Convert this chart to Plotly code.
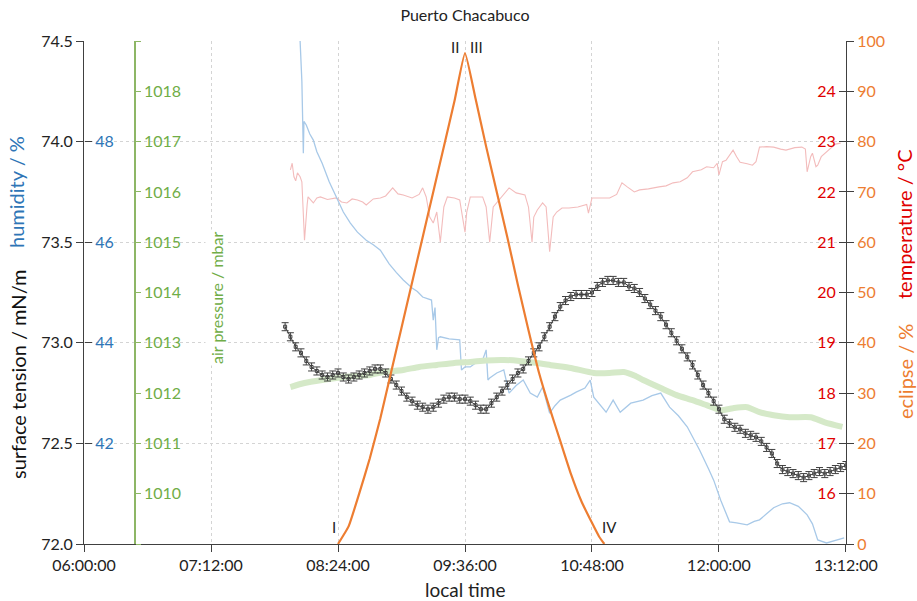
import plotly.graph_objects as go
import pandas as pd

DATE = "2020-01-01"
FONT = "Lato"


def ts(t):
    if t.count(":") == 1:
        t += ":00"
    return f"{DATE} {t}"


# ---------------- data ----------------
X_TICKS = ["06:00:00", "07:12:00", "08:24:00", "09:36:00", "10:48:00", "12:00:00", "13:12:00"]

# surface tension (mN/m), sampled every 3 minutes from 07:54
ST_START = "07:54"
ST_STEP_MIN = 3
ST_VALUES = [
    73.08, 73.03, 72.98, 72.95, 72.91, 72.88, 72.86, 72.84, 72.83, 72.84,
    72.85, 72.83, 72.82, 72.83, 72.84, 72.85, 72.86, 72.87, 72.87, 72.85,
    72.82, 72.79, 72.76, 72.73, 72.71, 72.69, 72.68, 72.67, 72.68, 72.70,
    72.72, 72.73, 72.73, 72.72, 72.72, 72.71, 72.69, 72.67, 72.67, 72.70,
    72.73, 72.76, 72.79, 72.82, 72.85, 72.87, 72.91, 72.95, 72.98, 73.03,
    73.08, 73.13, 73.18, 73.21, 73.23, 73.24, 73.24, 73.24, 73.25, 73.28,
    73.30, 73.31, 73.31, 73.30, 73.30, 73.28, 73.27, 73.25, 73.22, 73.19,
    73.16, 73.13, 73.09, 73.05, 73.01, 72.97, 72.93, 72.89, 72.84, 72.79,
    72.75, 72.71, 72.67, 72.62, 72.60, 72.58, 72.57, 72.55, 72.54, 72.53,
    72.51, 72.48, 72.45, 72.40, 72.37, 72.36, 72.35, 72.34, 72.33, 72.34,
    72.35, 72.36, 72.35, 72.36, 72.37, 72.38, 72.39,
]
ST_ERR = 0.02

HUM_TIME = [
    "08:02:00", "08:02:30", "08:03:30", "08:04:00", "08:04:20", "08:04:40", "08:06", "08:08",
    "08:10", "08:12", "08:15", "08:19", "08:23", "08:27", "08:31", "08:35", "08:40", "08:44",
    "08:48", "08:53", "08:57", "09:01", "09:06", "09:09", "09:12", "09:15", "09:17", "09:18",
    "09:19", "09:20", "09:21", "09:22", "09:27", "09:33", "09:34", "09:36", "09:39", "09:42",
    "09:46", "09:48", "09:49", "09:50", "09:54", "09:58", "10:01", "10:05", "10:09", "10:13",
    "10:17", "10:20", "10:24", "10:27", "10:30", "10:36", "10:39", "10:44", "10:47", "10:49",
    "10:53", "10:56", "11:00", "11:04", "11:10", "11:17", "11:22", "11:27", "11:32", "11:37",
    "11:42", "11:49", "11:54", "11:57", "12:01", "12:04", "12:06", "12:10", "12:16", "12:20",
    "12:23", "12:27", "12:31", "12:36", "12:40", "12:45", "12:50", "12:53", "12:56", "13:01",
    "13:04", "13:07", "13:11",
]
HUM_PCT = [
    50.8, 50.0, 49.2, 48.4, 47.77, 48.4, 48.33, 48.15,
    48.03, 47.8, 47.57, 47.2, 46.9, 46.6, 46.38, 46.2, 46.04, 45.95,
    45.84, 45.57, 45.4, 45.25, 45.09, 45.02, 44.91, 44.88, 44.85, 44.45,
    44.7, 43.86, 44.1, 44.12, 44.08, 44.06, 43.46, 43.52, 43.52, 43.6,
    43.66, 43.86, 43.26, 43.3, 43.4, 43.46, 43.0, 43.15, 43.26, 43.0,
    42.92, 43.12, 42.6, 42.75, 42.86, 42.96, 43.02, 43.1, 43.26, 42.92,
    42.75, 42.62, 42.86, 42.62, 42.8, 42.86, 42.95, 43.0, 42.72, 42.55,
    42.33, 41.87, 41.5, 41.27, 40.87, 40.6, 40.44, 40.42, 40.38, 40.45,
    40.48, 40.6, 40.72, 40.8, 40.82, 40.75, 40.58, 40.4, 40.08, 40.02,
    40.05, 40.08, 40.12,
]

PRES_TIME = [
    "07:57", "08:05", "08:15", "08:23", "08:30", "08:42", "08:50", "09:01", "09:10", "09:20",
    "09:30", "09:39", "09:48", "09:58", "10:07", "10:17", "10:26", "10:36", "10:49", "10:58",
    "11:06", "11:12", "11:17", "11:27", "11:36", "11:45", "11:53", "12:01", "12:08", "12:16",
    "12:23", "12:31", "12:40", "12:52", "13:00", "13:10",
]
PRES_MBAR = [
    1012.12, 1012.20, 1012.26, 1012.30, 1012.33, 1012.36, 1012.42, 1012.46, 1012.52, 1012.56,
    1012.60, 1012.62, 1012.65, 1012.66, 1012.64, 1012.60, 1012.55, 1012.50, 1012.40, 1012.40,
    1012.42, 1012.35, 1012.26, 1012.10, 1011.96, 1011.86, 1011.76, 1011.66, 1011.70, 1011.72,
    1011.62, 1011.56, 1011.52, 1011.52, 1011.42, 1011.33,
]

TEMP_TIME = [
    "07:57", "07:58", "07:59", "08:00", "08:01", "08:02:30", "08:03:30", "08:05", "08:06:30", "08:07",
    "08:10", "08:12", "08:14", "08:18", "08:23", "08:26", "08:29", "08:32", "08:35", "08:38",
    "08:40", "08:44", "08:48", "08:51", "08:55", "08:58", "09:01", "09:04", "09:06", "09:10",
    "09:12", "09:14", "09:16", "09:18", "09:20", "09:22", "09:24", "09:26", "09:30", "09:33",
    "09:35", "09:36", "09:37", "09:39", "09:43", "09:46", "09:48", "09:50", "09:52", "09:54",
    "09:58", "10:01", "10:05", "10:10", "10:12", "10:14", "10:15", "10:17", "10:20", "10:22",
    "10:24", "10:26", "10:28", "10:31", "10:35", "10:40", "10:45", "10:46", "10:48", "10:52",
    "10:58", "11:02", "11:05", "11:08", "11:12", "11:15", "11:20", "11:26", "11:30", "11:34",
    "11:38", "11:42", "11:45", "11:50", "11:53", "11:57", "11:59", "12:00", "12:02", "12:04",
    "12:08", "12:10", "12:12", "12:16", "12:19", "12:21", "12:23", "12:27", "12:31", "12:35",
    "12:38", "12:43", "12:47", "12:49", "12:50", "12:52", "12:53", "12:55", "12:56", "12:58",
    "12:59", "13:06", "13:09",
]
TEMP_C = [
    22.44, 22.57, 22.30, 22.22, 22.38, 22.30, 22.20, 21.04, 21.75, 21.90,
    21.78, 21.88, 21.90, 21.85, 21.88, 21.80, 21.78, 21.86, 21.84, 21.80,
    21.74, 21.86, 21.88, 21.92, 22.08, 21.96, 21.94, 21.90, 21.88, 21.95,
    22.08, 21.90, 21.50, 21.38, 21.60, 21.00, 21.70, 21.90, 21.88, 21.84,
    21.40, 21.20, 21.60, 21.90, 21.90, 21.90, 21.70, 21.00, 21.70, 21.78,
    21.95, 22.08, 21.98, 21.94, 21.70, 21.00, 21.50, 21.64, 21.78, 21.70,
    20.81, 21.50, 21.60, 21.68, 21.68, 21.70, 21.75, 21.58, 21.88, 21.88,
    21.88, 21.95, 22.18, 22.10, 22.00, 22.04, 22.06, 22.10, 22.12, 22.18,
    22.20, 22.28, 22.40, 22.44, 22.50, 22.48, 22.57, 22.34, 22.60, 22.63,
    22.83, 22.70, 22.59, 22.56, 22.53, 22.60, 22.89, 22.90, 22.89, 22.85,
    22.83, 22.88, 22.89, 22.85, 22.40, 22.70, 22.77, 22.50, 22.53, 22.70,
    22.73, 22.95, 22.97,
]

ECL_TIME = [
    "08:24", "08:30", "08:36", "08:42", "08:48", "08:54", "09:00", "09:06", "09:12", "09:18",
    "09:24", "09:30", "09:36", "09:42", "09:48", "09:54", "10:00", "10:06", "10:12", "10:18",
    "10:24", "10:30", "10:36", "10:42", "10:48", "10:52", "10:55",
]
ECL_PCT = [
    0.0, 3.5, 10.0, 17.0, 25.0, 34.0, 43.0, 52.0, 61.0, 70.0,
    79.0, 88.0, 97.6, 88.5, 79.0, 70.0, 61.0, 51.5, 42.5, 34.0,
    27.0, 20.5, 14.0, 8.5, 4.2, 1.5, 0.0,
]

CONTACT_NAMES = ["I", "II", "III", "IV"]
CONTACT_TIME = ["08:24", "09:36", "09:36", "10:55"]
CONTACT_LEVEL = [0.0, 97.6, 97.6, 0.0]

# ---------------- styling ----------------
C_ST = "#404040"
C_HUM_LINE = "#a8c9e8"
C_HUM_TXT = "#2e75b6"
C_PRES_LINE = "#d5e9c8"
C_PRES_TXT = "#70ad47"
C_PRES_AX = "#8db665"
C_TEMP_LINE = "#f3bcbc"
C_TEMP_TXT = "#e00000"
C_ECL = "#ed7d31"
C_GRID = "#d4d4d4"
C_AX = "#404040"

W, H = 917, 601
L, R, T, B = 84, 71, 41, 57
PW, PH = W - L - R, H - T - B


def px_x(px):
    return (px - L) / PW


def px_y(py):
    return (H - B - py) / PH


st_times = pd.date_range(ts(ST_START), periods=len(ST_VALUES), freq=f"{ST_STEP_MIN}min")

fig = go.Figure()

fig.add_trace(go.Scatter(
    x=[ts(t) for t in TEMP_TIME], y=TEMP_C, yaxis="y", mode="lines",
    line=dict(color=C_TEMP_LINE, width=1.1), name="temperature", showlegend=False))
fig.add_trace(go.Scatter(
    x=[ts(t) for t in HUM_TIME], y=HUM_PCT, yaxis="y2", mode="lines",
    line=dict(color=C_HUM_LINE, width=1.3), name="humidity", showlegend=False))
fig.add_trace(go.Scatter(
    x=[ts(t) for t in PRES_TIME], y=PRES_MBAR, yaxis="y3", mode="lines",
    line=dict(color=C_PRES_LINE, width=6, shape="spline", smoothing=0.6),
    name="air pressure", showlegend=False))
fig.add_trace(go.Scatter(
    x=st_times, y=ST_VALUES, yaxis="y4", mode="lines+markers",
    line=dict(color=C_ST, width=1),
    marker=dict(color=C_ST, size=3, symbol="square-open"),
    error_y=dict(type="constant", value=ST_ERR, color=C_ST, thickness=1, width=3.5),
    name="surface tension", showlegend=False))
fig.add_trace(go.Scatter(
    x=[ts(t) for t in ECL_TIME], y=ECL_PCT, yaxis="y5", mode="lines",
    line=dict(color=C_ECL, width=2.2, shape="spline", smoothing=0.4),
    name="eclipse", showlegend=False))

x_lo = pd.Timestamp(ts(X_TICKS[0])) - pd.Timedelta(seconds=2)
x_hi = pd.Timestamp(ts(X_TICKS[-1])) + pd.Timedelta(seconds=2)

fig.update_layout(
    width=W, height=H, autosize=False,
    margin=dict(l=L, r=R, t=T, b=B),
    paper_bgcolor="white", plot_bgcolor="white",
    font=dict(family=FONT, color="#222"),
    title=dict(text="Puerto Chacabuco", x=0.5, xref="paper", xanchor="center",
               y=1 - 15 / H, yref="container", yanchor="middle",
               font=dict(family=FONT, size=16, color="#222")),
    xaxis=dict(
        type="date", range=[x_lo, x_hi],
        tickvals=[ts(t) for t in X_TICKS], ticktext=X_TICKS,
        showline=True, linecolor=C_AX, linewidth=1,
        ticks="outside", ticklen=7, tickcolor=C_AX,
        showgrid=True, gridcolor=C_GRID, griddash="dot", gridwidth=1,
        zeroline=False, tickfont=dict(family=FONT, size=16, color="#222"),
    ),
    yaxis=dict(  # temperature: labels just inside the right edge
        anchor="free", position=1.0, side="left", range=[15, 25],
        tickvals=list(range(16, 25)), ticks="outside", ticklen=7, tickcolor=C_AX,
        showgrid=False, showline=False, zeroline=False,
        tickfont=dict(family=FONT, size=16, color=C_TEMP_TXT),
    ),
    yaxis2=dict(  # humidity: labels just inside the left edge
        overlaying="y", anchor="free", position=0.0, side="right", range=[40, 50],
        tickvals=[42, 44, 46, 48], ticks="outside", ticklen=7, tickcolor=C_AX,
        showgrid=False, showline=False, zeroline=False,
        tickfont=dict(family=FONT, size=16, color=C_HUM_TXT),
    ),
    yaxis3=dict(  # air pressure
        overlaying="y", anchor="free", position=px_x(135), side="right",
        range=[1009, 1019], tickvals=list(range(1009, 1020)),
        ticktext=[""] + [str(v) for v in range(1010, 1019)] + [""],
        ticks="outside", ticklen=5, tickcolor=C_PRES_AX,
        showline=True, linecolor=C_PRES_AX, linewidth=1.5,
        showgrid=False, zeroline=False,
        tickfont=dict(family=FONT, size=16, color=C_PRES_TXT),
    ),
    yaxis4=dict(  # surface tension
        overlaying="y", anchor="x", side="left", range=[72, 74.5],
        tickvals=[72.0, 72.5, 73.0, 73.5, 74.0, 74.5], tickformat=".1f",
        ticks="outside", ticklen=7, tickcolor=C_AX,
        showline=True, linecolor=C_AX, linewidth=1,
        showgrid=True, gridcolor=C_GRID, griddash="dot", gridwidth=1, zeroline=False,
        tickfont=dict(family=FONT, size=16, color="#222"),
    ),
    yaxis5=dict(  # eclipse
        overlaying="y", anchor="x", side="right", range=[0, 100], dtick=10,
        ticks="outside", ticklen=7, tickcolor=C_AX,
        showline=True, linecolor=C_AX, linewidth=1,
        showgrid=False, zeroline=False,
        tickfont=dict(family=FONT, size=16, color=C_ECL),
    ),
)

ann = []
ann.append(dict(text="local time", xref="paper", yref="paper", x=0.5, y=px_y(589),
                xanchor="center", yanchor="middle", showarrow=False,
                font=dict(family=FONT, size=19, color="#222")))
ann.append(dict(text="surface tension / mN/m", xref="paper", yref="paper", x=px_x(18), y=px_y(374),
                xanchor="center", yanchor="middle", textangle=-90, showarrow=False,
                font=dict(family=FONT, size=20, color="#111")))
ann.append(dict(text="humidity / %", xref="paper", yref="paper", x=px_x(16), y=px_y(192),
                xanchor="center", yanchor="middle", textangle=-90, showarrow=False,
                font=dict(family=FONT, size=20, color=C_HUM_TXT)))
ann.append(dict(text="air pressure / mbar", xref="paper", yref="paper", x=px_x(216), y=px_y(298),
                xanchor="center", yanchor="middle", textangle=-90, showarrow=False,
                bgcolor="white", font=dict(family=FONT, size=16, color=C_PRES_TXT)))
ann.append(dict(text="temperature / °C", xref="paper", yref="paper", x=px_x(904), y=px_y(224),
                xanchor="center", yanchor="middle", textangle=-90, showarrow=False,
                font=dict(family=FONT, size=20, color=C_TEMP_TXT)))
ann.append(dict(text="eclipse / %", xref="paper", yref="paper", x=px_x(905), y=px_y(372),
                xanchor="center", yanchor="middle", textangle=-90, showarrow=False,
                font=dict(family=FONT, size=20, color=C_ECL)))

shifts = {"I": (-4, 17), "II": (-10, 6), "III": (11, 6), "IV": (5, 17)}
for name, t, lvl in zip(CONTACT_NAMES, CONTACT_TIME, CONTACT_LEVEL):
    dx, dy = shifts[name]
    ann.append(dict(text=name, xref="x", yref="y5", x=ts(t), y=lvl, xshift=dx, yshift=dy,
                    xanchor="center", yanchor="middle", showarrow=False,
                    font=dict(family=FONT, size=15, color="#222")))

fig.update_layout(annotations=ann)
fig.write_html("out.html", config={"displayModeBar": False},
               post_script="document.body.style.margin='0';")
